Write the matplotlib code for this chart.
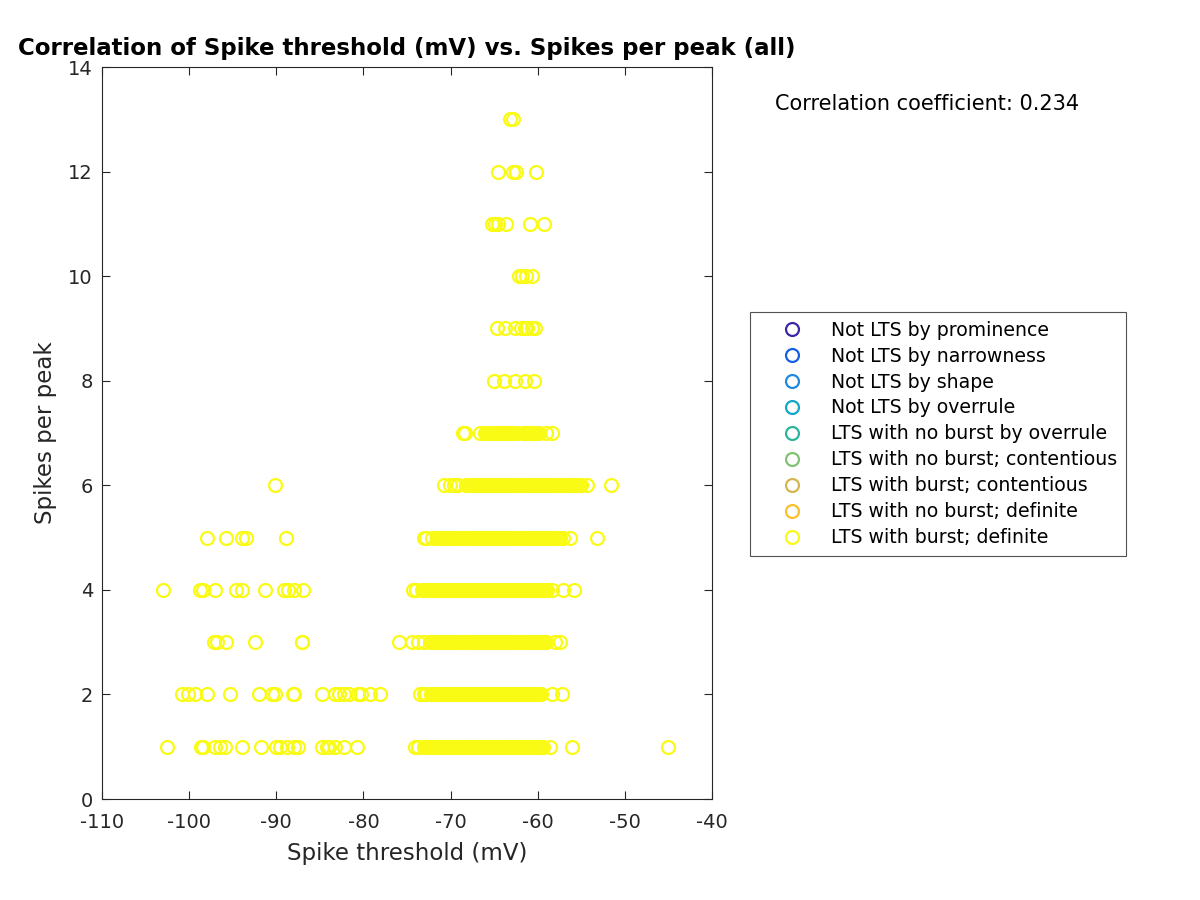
import numpy as np
import matplotlib
matplotlib.use("Agg")
import matplotlib.pyplot as plt

plt.rcParams["axes.unicode_minus"] = False

# Spike threshold (mV) values, one list per "spikes per peak" level
thr_1 = [-102.5, -98.6, -98.4, -97.0, -96.5, -95.9, -93.9, -91.8, -90.0, -89.6, -88.8, -88.0, -87.5,
         -84.8, -84.2, -83.9, -83.3, -82.2, -80.7, -74.1, -73.7,
         -73.1, -72.9, -72.7, -72.5, -72.3, -72.1, -71.9, -71.7, -71.5, -71.3, -71.1, -70.9, -70.7,
         -70.5, -70.3, -70.1, -69.9, -69.7, -69.5, -69.3, -69.1, -68.9, -68.7, -68.5, -68.3, -68.1,
         -67.9, -67.7, -67.5, -67.3, -67.1, -66.9, -66.7, -66.5, -66.3, -66.1, -65.9, -65.7, -65.5,
         -65.3, -65.1, -64.9, -64.7, -64.5, -64.3, -64.1, -63.9, -63.7, -63.5, -63.3, -63.1, -62.9,
         -62.7, -62.5, -62.3, -62.1, -61.9, -61.7, -61.5, -61.3, -61.1, -60.9, -60.7, -60.5, -60.3,
         -60.1, -59.9, -59.7, -59.5, -59.4, -58.6, -56.1, -45.1]
thr_2 = [-100.8, -100.1, -99.3, -97.9, -95.3, -92.0, -90.5, -90.2, -88.1, -88.0, -84.8, -83.3, -82.8,
         -82.2, -81.6, -80.6, -80.3, -79.3, -78.1, -73.5, -73.1, -72.8,
         -72.2, -72.0, -71.8, -71.6, -71.4, -71.2, -71.0, -70.8, -70.6, -70.4, -70.2, -70.0, -69.8,
         -69.6, -69.4, -69.2, -69.0, -68.8, -68.6, -68.4, -68.2, -68.0, -67.8, -67.6, -67.4, -67.2,
         -67.0, -66.8, -66.6, -66.4, -66.2, -66.0, -65.8, -65.6, -65.4, -65.2, -65.0, -64.8, -64.6,
         -64.4, -64.2, -64.0, -63.8, -63.6, -63.4, -63.2, -63.0, -62.8, -62.6, -62.4, -62.2, -62.0,
         -61.8, -61.6, -61.4, -61.2, -61.0, -60.8, -60.6, -60.4, -60.2, -60.0, -59.8, -59.6,
         -58.4, -57.2]
thr_3 = [-97.2, -96.8, -95.8, -92.4, -87.1, -87.0, -75.9, -74.4, -73.7, -73.1,
         -72.4, -72.2, -72.0, -71.8, -71.6, -71.4, -71.2, -71.0, -70.8, -70.6, -70.4, -70.2, -70.0,
         -69.8, -69.6, -69.4, -69.2, -69.0, -68.8, -68.6, -68.4, -68.2, -68.0, -67.8, -67.6, -67.4,
         -67.2, -67.0, -66.8, -66.6, -66.4, -66.2, -66.0, -65.8, -65.6, -65.4, -65.2, -65.0, -64.8,
         -64.6, -64.4, -64.2, -64.0, -63.8, -63.6, -63.4, -63.2, -63.0, -62.8, -62.6, -62.4, -62.2,
         -62.0, -61.8, -61.6, -61.4, -61.2, -61.0, -60.8, -60.6, -60.4, -60.2, -60.0, -59.8, -59.6,
         -59.4, -59.2, -59.0, -58.0, -57.4]
thr_4 = [-103.0, -98.8, -98.4, -97.0, -94.6, -93.9, -91.3, -89.1, -88.7, -88.0, -86.9, -74.3, -74.0,
         -73.3, -73.1, -72.9, -72.7, -72.5, -72.3, -72.1, -71.9, -71.7, -71.5, -71.3, -71.1, -70.9,
         -70.7, -70.5, -70.3, -70.1, -69.9, -69.7, -69.5, -69.3, -69.1, -68.9, -68.7, -68.5, -68.3,
         -68.1, -67.9, -67.7, -67.5, -67.3, -67.1, -66.9, -66.7, -66.5, -66.3, -66.1, -65.9, -65.7,
         -65.5, -65.3, -65.1, -64.9, -64.7, -64.5, -64.3, -64.1, -63.9, -63.7, -63.5, -63.3, -63.1,
         -62.9, -62.7, -62.5, -62.3, -62.1, -61.9, -61.7, -61.5, -61.3, -61.1, -60.9, -60.7, -60.5,
         -60.3, -60.1, -59.9, -59.7, -59.5, -59.3, -59.1, -58.9, -58.4, -57.1, -55.8]
thr_5 = [-98.0, -95.8, -93.9, -93.5, -88.9, -73.1, -72.8, -72.1,
         -71.6, -71.4, -71.2, -71.0, -70.8, -70.6, -70.4, -70.2, -70.0, -69.8, -69.6, -69.4, -69.2,
         -69.0, -68.8, -68.6, -68.4, -68.2, -68.0, -67.8, -67.6, -67.4, -67.2, -67.0, -66.8, -66.6,
         -66.4, -66.2, -66.0, -65.8, -65.6, -65.4, -65.2, -65.0, -64.8, -64.6, -64.4, -64.2, -64.0,
         -63.8, -63.6, -63.4, -63.2, -63.0, -62.8, -62.6, -62.4, -62.2, -62.0, -61.8, -61.6, -61.4,
         -61.2, -61.0, -60.8, -60.6, -60.4, -60.2, -60.0, -59.8, -59.6, -59.4, -59.2, -59.0, -58.8,
         -58.6, -58.4, -58.2, -58.0, -57.8, -57.6, -57.4, -57.1, -56.3, -53.2]
thr_6 = [-90.1, -70.7, -70.1, -69.6, -69.1,
         -68.2, -68.0, -67.8, -67.6, -67.4, -67.2, -67.0, -66.8, -66.6, -66.4, -66.2, -66.0, -65.8,
         -65.6, -65.4, -65.2, -65.0, -64.8, -64.6, -64.4, -64.2, -64.0, -63.8, -63.6, -63.4, -63.2,
         -63.0, -62.8, -62.6, -62.4, -62.2, -62.0, -61.8, -61.6, -61.4, -61.2, -61.0, -60.8, -60.6,
         -60.4, -60.2, -60.0, -59.8, -59.6, -59.4, -59.2, -59.0, -58.8, -58.6, -58.4, -58.2, -58.0,
         -57.8, -57.6, -57.4, -57.2, -57.0, -56.8, -56.6, -56.4, -56.2, -56.0, -55.8, -55.6, -55.4,
         -55.2, -55.0, -54.3, -51.6]
thr_7 = [-68.6, -68.3, -66.6, -66.1, -65.9, -65.7, -65.5, -65.3, -65.1, -64.9, -64.7, -64.5, -64.3,
         -64.1, -63.9, -63.7, -63.5, -63.3, -63.1, -62.9, -62.8, -62.4, -61.7, -61.5, -61.3, -61.1,
         -60.9, -60.7, -60.5, -60.3, -60.1, -59.9, -59.0, -58.4]
thr_8 = [-65.0, -63.9, -62.6, -61.4, -60.4]
thr_9 = [-64.7, -63.8, -62.6, -61.9, -61.5, -61.2, -60.7, -60.3]
thr_10 = [-62.2, -61.8, -61.3, -60.6]
thr_11 = [-65.3, -64.9, -64.6, -63.6, -60.9, -59.3]
thr_12 = [-64.6, -62.8, -62.5, -60.2]
thr_13 = [-63.2, -62.8]

rows = [thr_1, thr_2, thr_3, thr_4, thr_5, thr_6, thr_7, thr_8, thr_9, thr_10, thr_11, thr_12, thr_13]
spikes_levels = list(range(1, 14))

class_labels = ["Not LTS by prominence", "Not LTS by narrowness", "Not LTS by shape",
                "Not LTS by overrule", "LTS with no burst by overrule",
                "LTS with no burst; contentious", "LTS with burst; contentious",
                "LTS with no burst; definite", "LTS with burst; definite"]
class_colors = ["#3E26A8", "#1560E0", "#2188DD", "#12A6C9", "#2CB59C",
                "#83C173", "#D5B550", "#FBBF2C", "#F9FB15"]

corr_coef = 0.234

x = np.concatenate([np.array(r) for r in rows])
y = np.concatenate([np.full(len(r), lvl) for r, lvl in zip(rows, spikes_levels)])

fig = plt.figure(figsize=(12, 9), dpi=100)
ax = fig.add_axes([0.085, 0.1122, 0.5083, 0.8133])

# classes with no points still go in the legend
for lab, col in zip(class_labels[:-1], class_colors[:-1]):
    ax.plot([], [], "o", mfc="none", mec=col, ms=9.3, mew=1.6, label=lab)
ax.plot(x, y, "o", mfc="none", mec=class_colors[-1], ms=9.3, mew=1.6,
        linestyle="none", label=class_labels[-1])

ax.set_xlim(-110, -40)
ax.set_ylim(0, 14)
ax.set_xticks(range(-110, -39, 10))
ax.set_yticks(range(0, 15, 2))
ax.tick_params(direction="in", top=True, right=True, length=6, width=0.8,
               labelsize=14, colors="#262626")
ax.tick_params(axis="x", pad=10)
ax.tick_params(axis="y", pad=6.5)
for s in ax.spines.values():
    s.set_color("#262626")
    s.set_linewidth(0.8)

ax.set_xlabel("Spike threshold (mV)", fontsize=16.5, color="#262626", labelpad=7.5)
ax.set_ylabel("Spikes per peak", fontsize=16.5, color="#262626", labelpad=8)
ax.set_title("Correlation of Spike threshold (mV) vs. Spikes per peak (all)",
             fontsize=16.5, fontweight="bold", pad=8.5)

fig.text(0.646, 0.8844, f"Correlation coefficient: {corr_coef:.3f}", fontsize=15,
         va="center", ha="left")

leg = ax.legend(loc="upper left", bbox_to_anchor=(0.625, 0.6533),
                bbox_transform=fig.transFigure, fontsize=13.6, frameon=True,
                fancybox=False, edgecolor="#262626", borderpad=0.45,
                handlelength=3.55, handletextpad=0.3, labelspacing=0.37,
                borderaxespad=0)
leg.get_frame().set_linewidth(0.8)

fig.savefig("out.png", dpi=100)
